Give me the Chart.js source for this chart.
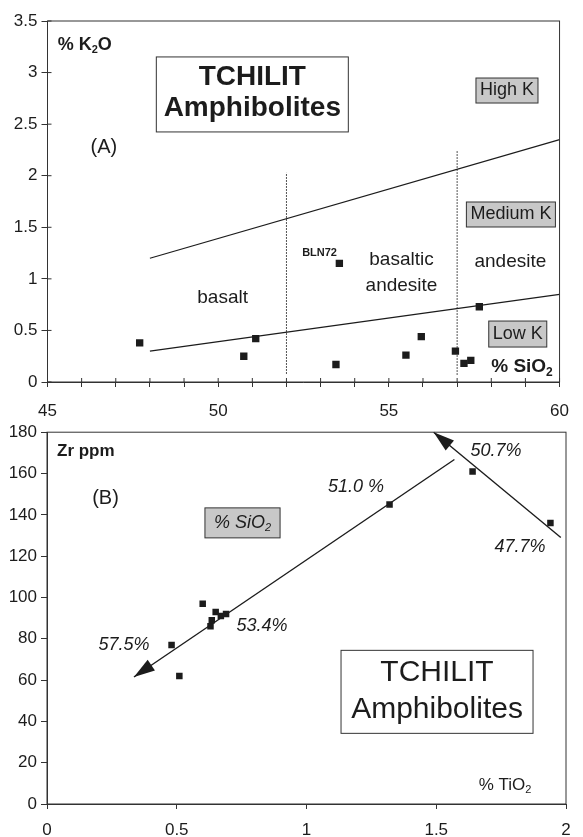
<!DOCTYPE html>
<html>
<head>
<meta charset="utf-8">
<script src="https://cdn.jsdelivr.net/npm/chart.js@4.4.0/dist/chart.umd.min.js"></script>
<style>
  html, body { margin: 0; padding: 0; background: #fff; }
  #wrap { position: relative; width: 583px; height: 837px; }
  canvas { position: absolute; left: 0; }
  #chartA { top: 0; }
  #chartB { top: 418px; }
</style>
</head>
<body>
<div id="wrap">
  <canvas id="chartA" width="583" height="430"></canvas>
  <canvas id="chartB" width="583" height="419"></canvas>
</div>
<script>
const FONT = "'Liberation Sans', Arial, sans-serif";
const INK = '#1c1c1c';

// (A) K2O vs SiO2
const siO2 = [47.7, 50.75, 51.1, 53.45, 53.55, 55.5, 55.95, 56.95, 57.2, 57.4, 57.65];
const k2O = [0.38, 0.25, 0.42, 0.17, 1.15, 0.26, 0.44, 0.30, 0.18, 0.21, 0.73];
const kLineSi = [48, 60];
const lowMedK = [0.3, 0.85];
const medHighK = [1.2, 2.35];
const basaltDivider = { x: 52, y: [0.08, 2.03] };
const andesiteDivider = { x: 57, y: [0.07, 2.25] };

// (B) Zr vs TiO2
const tiO2 = [0.48, 0.51, 0.60, 0.63, 0.635, 0.65, 0.67, 0.69, 1.32, 1.64, 1.94];
const zr = [77, 62, 97, 86, 89, 93, 91, 92, 145, 161, 136];
const trendArrow = [[1.57, 166.8], [0.335, 61.5]];   // tail, tip
const returnArrow = [[1.98, 129], [1.49, 180]];

// text notes, placed in data coordinates
const notesA = [
  { at: [45.3, 3.267], text: ['% K', '_2', 'O'], size: 18, style: 'bold', align: 'left' },
  { at: [51.0, 2.788], frame: [192, 75] },
  { at: [51.0, 2.955], text: ['TCHILIT'], size: 28, style: 'bold' },
  { at: [51.0, 2.655], text: ['Amphibolites'], size: 28, style: 'bold' },
  { at: [46.65, 2.278], text: ['(A)'], size: 20 },
  { at: [58.46, 2.826], text: ['High K'], size: 18, gray: 25 },
  { at: [58.575, 1.624], text: ['Medium K'], size: 18, gray: 25 },
  { at: [58.776, 0.465], text: ['Low K'], size: 18, gray: 26 },
  { at: [58.9, 0.145], text: ['% SiO', '_2'], size: 19, style: 'bold' },
  { at: [50.13, 0.814], text: ['basalt'], size: 19 },
  { at: [55.37, 1.183], text: ['basaltic'], size: 19 },
  { at: [55.37, 0.931], text: ['andesite'], size: 19 },
  { at: [58.56, 1.163], text: ['andesite'], size: 19 },
  { at: [52.97, 1.251], text: ['BLN72'], size: 11, style: 'bold' }
];

const notesB = [
  { at: [0.0385, 170.85], text: ['Zr ppm'], size: 17, style: 'bold', align: 'left' },
  { at: [0.2254, 147.7], text: ['(B)'], size: 20 },
  { at: [0.7534, 136.1], text: ['% SiO', '_2'], size: 18, style: 'italic', gray: 30, pad: 9 },
  { at: [1.191, 153.5], text: ['51.0 %'], size: 18, style: 'italic' },
  { at: [1.730, 170.85], text: ['50.7%'], size: 18, style: 'italic' },
  { at: [1.823, 124.5], text: ['47.7%'], size: 18, style: 'italic' },
  { at: [0.8285, 86.4], text: ['53.4%'], size: 18, style: 'italic' },
  { at: [0.2967, 77.2], text: ['57.5%'], size: 18, style: 'italic' },
  { at: [1.765, 9.2], text: ['% TiO', '_2'], size: 17 },
  { at: [1.503, 54.3], frame: [192, 83] },
  { at: [1.503, 63.4], text: ['TCHILIT'], size: 30 },
  { at: [1.503, 45.4], text: ['Amphibolites'], size: 30 }
];

function measureRich(ctx, parts, size, style) {
  let w = 0;
  parts.forEach(p => {
    const sub = p[0] === '_';
    ctx.font = `${style} ${sub ? Math.round(size * 0.62) : size}px ${FONT}`;
    w += ctx.measureText(sub ? p.slice(1) : p).width;
  });
  return w;
}

function drawRich(ctx, parts, x, y, align, size, style) {
  const w = measureRich(ctx, parts, size, style);
  let cx = align === 'left' ? x : x - w / 2;
  ctx.textBaseline = 'middle';
  ctx.textAlign = 'left';
  parts.forEach(p => {
    const sub = p[0] === '_';
    const t = sub ? p.slice(1) : p;
    ctx.font = `${style} ${sub ? Math.round(size * 0.62) : size}px ${FONT}`;
    ctx.fillText(t, cx, sub ? y + size * 0.3 : y);
    cx += ctx.measureText(t).width;
  });
}

function notesPlugin(notes) {
  return {
    id: 'notes',
    afterDatasetsDraw(chart) {
      const { ctx, scales } = chart;
      ctx.save();
      notes.forEach(n => {
        const x = scales.x.getPixelForValue(n.at[0]);
        const y = scales.y.getPixelForValue(n.at[1]);
        ctx.lineWidth = 1;
        ctx.strokeStyle = '#333';
        if (n.frame) {
          const [w, h] = n.frame;
          ctx.fillStyle = '#fff';
          ctx.fillRect(x - w / 2, y - h / 2, w, h);
          ctx.strokeRect(x - w / 2, y - h / 2, w, h);
          return;
        }
        const style = n.style || 'normal';
        if (n.gray) {
          const w = measureRich(ctx, n.text, n.size, style) + 2 * (n.pad || 4);
          ctx.fillStyle = '#c8c8c8';
          ctx.fillRect(x - w / 2, y - n.gray / 2, w, n.gray);
          ctx.strokeRect(x - w / 2, y - n.gray / 2, w, n.gray);
        }
        ctx.fillStyle = INK;
        drawRich(ctx, n.text, x, y, n.align || 'center', n.size, style);
      });
      ctx.restore();
    }
  };
}

function framePlugin(innerTicks) {
  return {
    id: 'frame',
    afterDraw(chart) {
      const { ctx, chartArea: a, scales } = chart;
      ctx.save();
      ctx.strokeStyle = '#333';
      ctx.lineWidth = 1;
      ctx.strokeRect(a.left, a.top, a.right - a.left, a.bottom - a.top);
      if (innerTicks) {
        ctx.beginPath();
        scales.x.ticks.forEach((t, i) => {
          const px = scales.x.getPixelForTick(i);
          ctx.moveTo(px, a.bottom);
          ctx.lineTo(px, a.bottom - 4);
        });
        scales.y.ticks.forEach((t, i) => {
          const py = scales.y.getPixelForTick(i);
          ctx.moveTo(a.left, py);
          ctx.lineTo(a.left + 4, py);
        });
        ctx.stroke();
      }
      ctx.restore();
    }
  };
}

const arrowPlugin = {
  id: 'arrows',
  afterDatasetsDraw(chart) {
    const { ctx, scales } = chart;
    ctx.save();
    ctx.fillStyle = INK;
    [trendArrow, returnArrow].forEach(([tail, tip]) => {
      const x0 = scales.x.getPixelForValue(tail[0]), y0 = scales.y.getPixelForValue(tail[1]);
      const x1 = scales.x.getPixelForValue(tip[0]), y1 = scales.y.getPixelForValue(tip[1]);
      const len = Math.hypot(x1 - x0, y1 - y0);
      const ux = (x1 - x0) / len, uy = (y1 - y0) / len;
      const L = 21, W = 6.5;
      ctx.beginPath();
      ctx.moveTo(x1, y1);
      ctx.lineTo(x1 - ux * L - uy * W, y1 - uy * L + ux * W);
      ctx.lineTo(x1 - ux * L + uy * W, y1 - uy * L - ux * W);
      ctx.closePath();
      ctx.fill();
    });
    ctx.restore();
  }
};

function points(xs, ys) {
  return xs.map((x, i) => ({ x, y: ys[i] }));
}

function segment(style) {
  return Object.assign({
    showLine: true, pointRadius: 0, borderColor: INK, borderWidth: 1.2, fill: false, clip: false
  }, style);
}

function axes(x, y) {
  const tickFont = { family: FONT, size: 17 };
  return {
    x: {
      type: 'linear', position: 'bottom', min: x.min, max: x.max,
      afterFit: s => { s.height = x.height; },
      grid: { drawOnChartArea: false, tickLength: 5, color: '#333' },
      border: { color: '#333', width: 1 },
      ticks: {
        stepSize: x.step, autoSkip: false, maxRotation: 0, color: INK, font: tickFont,
        padding: x.pad, callback: x.label || (v => String(v))
      }
    },
    y: {
      type: 'linear', min: y.min, max: y.max,
      afterFit: s => { s.width = y.width; },
      grid: { drawOnChartArea: false, tickLength: 6, color: '#333' },
      border: { color: '#333', width: 1 },
      ticks: { stepSize: y.step, color: INK, font: tickFont, padding: 4, callback: v => String(v) }
    }
  };
}

const common = {
  responsive: false,
  animation: false,
  plugins: { legend: { display: false }, tooltip: { enabled: false } }
};

new Chart(document.getElementById('chartA'), {
  type: 'scatter',
  data: {
    datasets: [
      segment({ data: points(kLineSi, lowMedK) }),
      segment({ data: points(kLineSi, medHighK) }),
      segment({ data: points([basaltDivider.x, basaltDivider.x], basaltDivider.y), borderWidth: 1, borderDash: [1.5, 1.5] }),
      segment({ data: points([andesiteDivider.x, andesiteDivider.x], andesiteDivider.y), borderWidth: 1, borderDash: [1.5, 1.5] }),
      {
        data: points(siO2, k2O), pointStyle: 'rect', pointRadius: 5.2,
        backgroundColor: INK, borderWidth: 0
      }
    ]
  },
  options: Object.assign({}, common, {
    layout: { padding: { top: 21, right: 14, left: 0, bottom: 0 } },
    scales: axes(
      { min: 45, max: 60, step: 1, height: 48, pad: 14, label: v => (v % 5 === 0 ? String(v) : '') },
      { min: 0, max: 3.5, step: 0.5, width: 47.5 }
    )
  }),
  plugins: [framePlugin(true), notesPlugin(notesA)]
});

new Chart(document.getElementById('chartB'), {
  type: 'scatter',
  data: {
    datasets: [
      segment({ data: points([trendArrow[0][0], trendArrow[1][0]], [trendArrow[0][1], trendArrow[1][1]]), borderWidth: 1.4 }),
      segment({ data: points([returnArrow[0][0], returnArrow[1][0]], [returnArrow[0][1], returnArrow[1][1]]), borderWidth: 1.4 }),
      {
        data: points(tiO2, zr), pointStyle: 'rect', pointRadius: 4.6,
        backgroundColor: INK, borderWidth: 0
      }
    ]
  },
  options: Object.assign({}, common, {
    layout: { padding: { top: 13, right: 17, left: 0, bottom: 0 } },
    scales: axes(
      { min: 0, max: 2, step: 0.5, height: 33, pad: 11 },
      { min: 0, max: 180, step: 20, width: 47 }
    )
  }),
  plugins: [framePlugin(false), arrowPlugin, notesPlugin(notesB)]
});
</script>
</body>
</html>
